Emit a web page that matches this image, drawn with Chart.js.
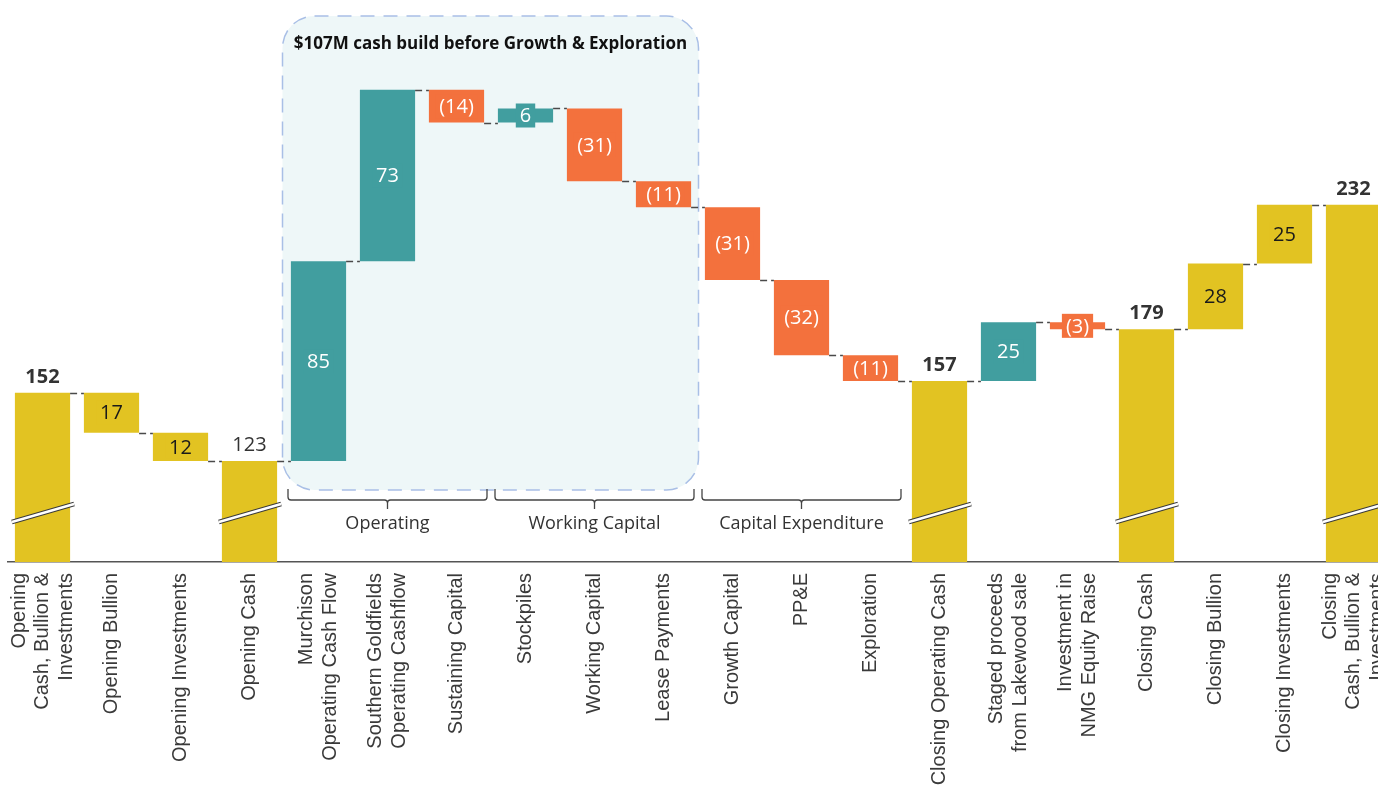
<!DOCTYPE html>
<html>
<head>
<meta charset="utf-8">
<title>Cash, Bullion & Investments waterfall</title>
<script src="https://cdn.jsdelivr.net/npm/chart.js@4.4.1/dist/chart.umd.min.js"></script>
<style>
  html, body { margin: 0; padding: 0; background: #fff; overflow: hidden; }
  #wrap { position: relative; width: 1396px; height: 786px; }
</style>
</head>
<body>
<div id="wrap"><canvas id="cashChart"></canvas></div>
<script>
// categories (one entry per bar, multi-line where the label wraps)
const categories = [
    ['Opening', 'Cash, Bullion &', 'Investments'],
    ['Opening Bullion'],
    ['Opening Investments'],
    ['Opening Cash'],
    ['Murchison', 'Operating Cash Flow'],
    ['Southern Goldfields', 'Operating Cashflow'],
    ['Sustaining Capital'],
    ['Stockpiles'],
    ['Working Capital'],
    ['Lease Payments'],
    ['Growth Capital'],
    ['PP&E'],
    ['Exploration'],
    ['Closing Operating Cash'],
    ['Staged proceeds', 'from Lakewood sale'],
    ['Investment in', 'NMG Equity Raise'],
    ['Closing Cash'],
    ['Closing Bullion'],
    ['Closing Investments'],
    ['Closing', 'Cash, Bullion &', 'Investments']
];

// A$M; totals are balances, the rest are movements
const amounts = [152, -17, -12, 123, 85, 73, -14, 6, -31, -11, -31, -32, -11, 157, 25, -3, 179, 28, 25, 232];

// total = balance bar from the axis, balance = bullion/investments reconciliation, flow = cash movement
const stepTypes = ['total', 'balance', 'balance', 'total', 'flow', 'flow', 'flow', 'flow', 'flow', 'flow',
                   'flow', 'flow', 'flow', 'total', 'flow', 'flow', 'total', 'balance', 'balance', 'total'];

const groups = [
    { label: 'Operating', from: 4, to: 6 },
    { label: 'Working Capital', from: 7, to: 9 },
    { label: 'Capital Expenditure', from: 10, to: 12 }
];

const highlight = { title: '$107M cash build before Growth & Exploration', from: 4, to: 9 };

const yMin = 80;
const yMax = 300;

const YELLOW = '#E2C322';
const TEAL = '#419E9F';
const ORANGE = '#F3713D';
const LABEL_FONT = '"Open Sans", "Noto Sans", sans-serif';
const TICK_FONT = '"Liberation Sans", Arial, sans-serif';

// build floating bars from the running level
let level = 0;
const bars = [];
const levels = [];
const colors = [];
amounts.forEach((v, i) => {
    if (stepTypes[i] === 'total') {
        bars.push([0, v]);
        level = v;
        colors.push(YELLOW);
    } else {
        bars.push([level, level + v]);
        level += v;
        colors.push(stepTypes[i] === 'balance' ? YELLOW : (v >= 0 ? TEAL : ORANGE));
    }
    levels.push(level);
});

function barLabel(i) {
    const v = amounts[i];
    if (stepTypes[i] === 'flow' && v < 0) return '(' + Math.abs(v) + ')';
    return String(Math.abs(v));
}

const highlightPlugin = {
    id: 'highlightBox',
    beforeDatasetsDraw(chart) {
        const { ctx, chartArea, scales: { x } } = chart;
        const half = (x.getPixelForValue(1) - x.getPixelForValue(0)) / 2;
        const left = x.getPixelForValue(highlight.from) - half - 1.5;
        const right = x.getPixelForValue(highlight.to) + half + 0.5;
        const top = chartArea.top - 29;
        const bottom = chartArea.bottom - 72;
        ctx.save();
        ctx.beginPath();
        ctx.roundRect(left, top, right - left, bottom - top, 32);
        ctx.fillStyle = '#EEF7F8';
        ctx.fill();
        ctx.setLineDash([14, 9]);
        ctx.lineWidth = 1.5;
        ctx.strokeStyle = '#A9BFE6';
        ctx.stroke();
        ctx.setLineDash([]);
        ctx.fillStyle = '#111';
        ctx.font = 'bold 17px ' + LABEL_FONT;
        ctx.textAlign = 'center';
        ctx.textBaseline = 'middle';
        ctx.fillText(highlight.title, (left + right) / 2, top + 28);
        ctx.restore();
    }
};

const waterfallPlugin = {
    id: 'waterfallExtras',
    afterDatasetsDraw(chart) {
        const { ctx, chartArea, scales: { y } } = chart;
        const meta = chart.getDatasetMeta(0).data;

        ctx.save();
        // dashed connectors between bars
        ctx.strokeStyle = '#4a4a4a';
        ctx.lineWidth = 1.5;
        ctx.setLineDash([7, 4]);
        for (let i = 0; i < meta.length - 1; i++) {
            const py = Math.round(y.getPixelForValue(levels[i])) + 0.5;
            ctx.beginPath();
            ctx.moveTo(meta[i].x + meta[i].width / 2, py);
            ctx.lineTo(meta[i + 1].x - meta[i + 1].width / 2, py);
            ctx.stroke();
        }
        ctx.setLineDash([]);

        // axis break marks on balance bars
        const by = chartArea.bottom - 49;
        meta.forEach((bar, i) => {
            if (stepTypes[i] !== 'total') return;
            const l = bar.x - bar.width / 2 - 3;
            const r = bar.x + bar.width / 2 + 4;
            ctx.beginPath();
            ctx.moveTo(l, by + 9);
            ctx.lineTo(r, by - 9);
            ctx.strokeStyle = '#3a3a3a';
            ctx.lineWidth = 4.5;
            ctx.stroke();
            ctx.strokeStyle = '#fff';
            ctx.lineWidth = 2.5;
            ctx.stroke();
        });

        // value labels
        ctx.textAlign = 'center';
        ctx.textBaseline = 'middle';
        meta.forEach((bar, i) => {
            const text = barLabel(i);
            if (stepTypes[i] === 'total') {
                ctx.font = (i === 3 ? '' : 'bold ') + '20px ' + LABEL_FONT;
                ctx.fillStyle = '#333';
                ctx.fillText(text, bar.x, bar.y - 16);
                return;
            }
            ctx.font = '20px ' + LABEL_FONT;
            const cy = (bar.y + bar.base) / 2;
            const w = ctx.measureText(text).width + 8;
            ctx.fillStyle = colors[i];
            ctx.fillRect(bar.x - w / 2, cy - 12, w, 24);
            ctx.fillStyle = colors[i] === YELLOW ? '#1a1a1a' : '#fff';
            ctx.fillText(text, bar.x, cy + 1);
        });
        ctx.restore();
    },
    afterDraw(chart) {
        const { ctx, chartArea, scales: { x } } = chart;
        const half = (x.getPixelForValue(1) - x.getPixelForValue(0)) / 2;
        ctx.save();

        // group brackets
        const yTop = chartArea.bottom - 73;
        const yLine = chartArea.bottom - 62;
        const yTip = chartArea.bottom - 53;
        groups.forEach(g => {
            const l = x.getPixelForValue(g.from) - half + 4;
            const r = x.getPixelForValue(g.to) + half - 4;
            const m = (l + r) / 2;
            ctx.beginPath();
            ctx.moveTo(l, yTop);
            ctx.lineTo(l, yLine - 3);
            ctx.quadraticCurveTo(l, yLine, l + 3, yLine);
            ctx.lineTo(m - 3, yLine);
            ctx.quadraticCurveTo(m, yLine, m, yLine + 3);
            ctx.lineTo(m, yTip);
            ctx.moveTo(m, yLine + 3);
            ctx.quadraticCurveTo(m, yLine, m + 3, yLine);
            ctx.lineTo(r - 3, yLine);
            ctx.quadraticCurveTo(r, yLine, r, yLine - 3);
            ctx.lineTo(r, yTop);
            ctx.strokeStyle = '#444';
            ctx.lineWidth = 1.3;
            ctx.stroke();
            ctx.fillStyle = '#333';
            ctx.font = '18px ' + LABEL_FONT;
            ctx.textAlign = 'center';
            ctx.textBaseline = 'middle';
            ctx.fillText(g.label, m, chartArea.bottom - 38);
        });

        // rotated category labels, lines centred on the tick
        ctx.font = '20px ' + TICK_FONT;
        ctx.fillStyle = '#3a3a3a';
        ctx.textAlign = 'right';
        ctx.textBaseline = 'middle';
        const lh = 23.5;
        const y0 = chartArea.bottom + 11;
        categories.forEach((lines, i) => {
            const px = x.getPixelForValue(i);
            lines.forEach((line, j) => {
                const lx = px + (j - (lines.length - 1) / 2) * lh;
                ctx.save();
                ctx.translate(lx, y0);
                ctx.rotate(-Math.PI / 2);
                ctx.fillText(line, 0, 0);
                ctx.restore();
            });
        });
        ctx.restore();
    }
};

const cashChart = new Chart(document.getElementById('cashChart'), {
    type: 'bar',
    data: {
        labels: categories.map(c => c.join(' ')),
        datasets: [{
            data: bars,
            backgroundColor: colors,
            barPercentage: 0.8,
            categoryPercentage: 1.0,
            clip: 0
        }]
    },
    options: {
        responsive: true,
        maintainAspectRatio: false,
        animation: false,
        layout: { padding: { top: 45, left: 8, right: 8, bottom: 0 } },
        plugins: {
            legend: { display: false },
            tooltip: { enabled: false }
        },
        scales: {
            x: {
                grid: { display: false },
                border: { display: true, color: '#555', width: 1.5 },
                ticks: { display: false },
                afterFit(scale) { scale.height = 224; }
            },
            y: {
                display: false,
                min: yMin,
                max: yMax
            }
        }
    },
    plugins: [highlightPlugin, waterfallPlugin]
});
</script>
</body>
</html>
